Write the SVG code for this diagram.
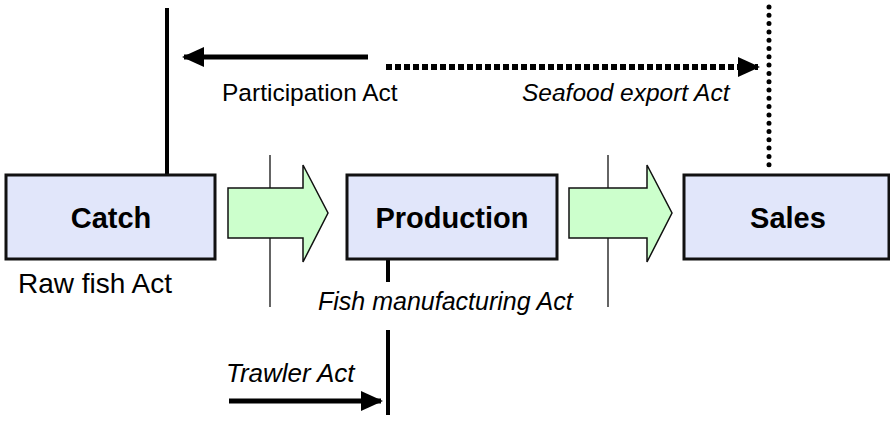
<svg xmlns="http://www.w3.org/2000/svg" width="890" height="421" viewBox="0 0 890 421">
<style>
.box{fill:#E1E6FA;stroke:#111;stroke-width:3}
.flow{fill:#CCFFCC;stroke:#111;stroke-width:1.5}
.thin{stroke:#111;stroke-width:1.3;fill:none}
.thick{stroke:#000;stroke-width:4;fill:none}
.lbl{font-family:"Liberation Sans",Arial,sans-serif;font-weight:bold;font-size:29px;fill:#000;text-anchor:middle}
.txt{font-family:"Liberation Sans",Arial,sans-serif;font-size:24.5px;fill:#000}
.it{font-style:italic}
</style>
<defs>
<marker id="ah" markerUnits="userSpaceOnUse" markerWidth="22" markerHeight="20" refX="20" refY="10" orient="auto">
<path d="M0,0 L22,10 L0,20 Z" fill="#000"/>
</marker>
</defs>
<g id="connectors">
<line class="thin" x1="270" y1="155" x2="270" y2="307"/>
<line class="thin" x1="608" y1="155" x2="608" y2="307"/>
<line class="thick" x1="167" y1="8" x2="167" y2="175"/>
<line x1="368" y1="57" x2="184" y2="57" stroke="#000" stroke-width="5" marker-end="url(#ah)"/>
<line x1="769" y1="7" x2="769" y2="172" stroke="#000" stroke-width="5" stroke-linecap="round" stroke-dasharray="0 8.3"/>
<line x1="386" y1="67" x2="758" y2="67" stroke="#000" stroke-width="6" stroke-dasharray="6 3" marker-end="url(#ah)"/>
<line class="thick" x1="388" y1="259" x2="388" y2="282"/>
<line class="thick" x1="388" y1="330" x2="388" y2="415"/>
<line x1="229" y1="401" x2="381" y2="401" stroke="#000" stroke-width="5" marker-end="url(#ah)"/>
<path id="flow1" class="flow" d="M228,188 H303 V165 L328,213 L303,262 V238 H228 Z"/>
<path id="flow2" class="flow" d="M569,188 H647 V165 L672,213 L647,262 V238 H569 Z"/>
</g>
<g id="catch">
<rect class="box" x="6" y="175" width="209" height="84"/>
<text class="lbl" x="111" y="228">Catch</text>
</g>
<g id="production">
<rect class="box" x="347" y="175" width="210" height="84"/>
<text class="lbl" x="452" y="228">Production</text>
</g>
<g id="sales">
<rect class="box" x="684" y="175" width="205" height="84"/>
<text class="lbl" x="788" y="228">Sales</text>
</g>
<g id="labels">
<text class="txt" x="222" y="101">Participation Act</text>
<text class="txt it" x="522" y="101">Seafood export Act</text>
<text class="txt" x="18" y="293" style="font-size:28px">Raw fish Act</text>
<text class="txt it" x="318" y="310" style="font-size:25px">Fish manufacturing Act</text>
<text class="txt it" x="226" y="382" style="font-size:26px">Trawler Act</text>
</g>
</svg>
